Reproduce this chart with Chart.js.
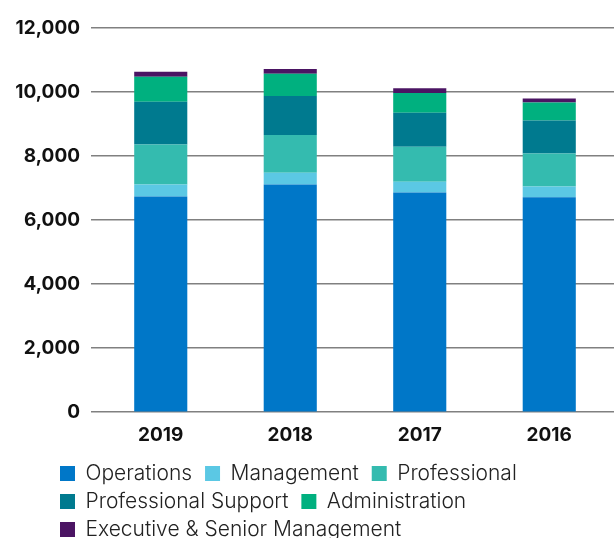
<html>
<head>
<title>Employees by category</title>
<style>
  html, body { margin: 0; padding: 0; background: #fff; overflow: hidden; }
  #wrap { width: 614px; height: 550px; }
</style>
</head>
<body>
<div id="wrap">
  <canvas id="staff-chart" width="614" height="550"></canvas>
</div>
<script src="https://cdn.jsdelivr.net/npm/chart.js"></script>
<script>

    const years = ["2019", "2018", "2017", "2016"]

    const operations = [6740, 7110, 6860, 6710]
    const management = [370, 370, 340, 340]
    const professional = [1250, 1180, 1090, 1030]
    const professionalSupport = [1340, 1220, 1060, 1030]
    const administration = [780, 690, 620, 560]
    const executive = [150, 150, 150, 130]

    const yTicks = [0, 2000, 4000, 6000, 8000, 10000, 12000]

    // push the legend over so its rows line up like the original
    const legendShift = {
        id: "legendShift",
        afterLayout(chart){
            chart.legend.left += 53
            chart.legend.right += 53
        }
    }

    function main(){
        const ctx = document.getElementById("staff-chart")
        new Chart(ctx, {
            type: "bar",
            data: {
                labels: years,
                datasets: [
                    { label: "Operations", data: operations, backgroundColor: "#0077c8" },
                    { label: "Management", data: management, backgroundColor: "#5bc8e4" },
                    { label: "Professional", data: professional, backgroundColor: "#34bbaf" },
                    { label: "Professional Support", data: professionalSupport, backgroundColor: "#007a8f" },
                    { label: "Administration", data: administration, backgroundColor: "#00b07f" },
                    { label: "Executive & Senior Management", data: executive, backgroundColor: "#4b1463" }
                ]
            },
            options: {
                responsive: false,
                animation: false,
                locale: "en-US",
                layout: { padding: { top: 28, right: 0, bottom: 0, left: 0 } },
                datasets: { bar: { barPercentage: 1, categoryPercentage: 0.41 } },
                plugins: {
                    tooltip: { enabled: false },
                    legend: {
                        position: "bottom",
                        align: "start",
                        labels: {
                            boxWidth: 15,
                            boxHeight: 15,
                            padding: 7,
                            color: "#222",
                            font: { family: "Inter", size: 21, weight: 300 },
                            generateLabels(chart){
                                const items = Chart.defaults.plugins.legend.labels.generateLabels(chart)
                                items.forEach(it => { it.text = it.text + " " })
                                return items
                            }
                        }
                    }
                },
                scales: {
                    x: {
                        stacked: true,
                        grid: { display: false },
                        border: { display: false },
                        afterFit(scale){
                            scale.height += 5
                        },
                        ticks: {
                            color: "#111",
                            padding: 4,
                            font: { family: "Inter", size: 19, weight: 700 }
                        }
                    },
                    y: {
                        stacked: true,
                        min: 0,
                        max: 12000,
                        afterBuildTicks(scale){
                            scale.ticks = yTicks.map(v => ({ value: v }))
                        },
                        afterFit(scale){
                            scale.width = 96
                        },
                        border: { display: false },
                        grid: { color: "#808080", lineWidth: 1.5, tickLength: 5 },
                        ticks: {
                            color: "#111",
                            padding: 11,
                            font: { family: "Inter", size: 19, weight: 700 }
                        }
                    }
                }
            },
            plugins: [legendShift]
        })
    }

    main()
</script>
</body>
</html>
